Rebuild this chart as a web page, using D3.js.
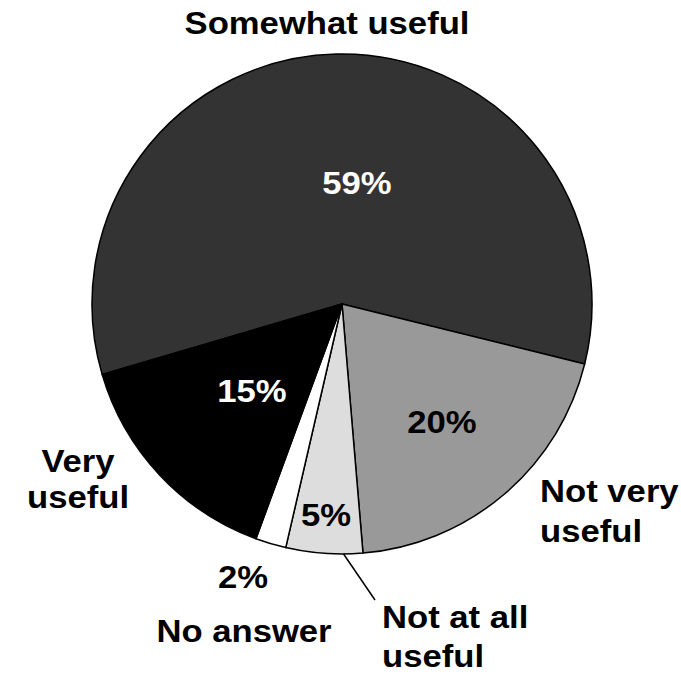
<!DOCTYPE html>
<html>
<head>
<meta charset="utf-8">
<script src="https://cdn.jsdelivr.net/npm/d3@7"></script>
<style>
  html, body { margin: 0; padding: 0; background: #fff; }
  svg { display: block; }
  text { font-family: "Liberation Sans", Arial, sans-serif; font-weight: bold; }
</style>
</head>
<body>
<svg id="chart" width="681" height="676"></svg>
<script>
// Survey answers, in drawing order (clockwise)
const categories = ["Somewhat useful", "Not very useful", "Not at all useful", "No answer", "Very useful"];
const values = [59, 20, 5, 2, 15];
const fills = ["#333333", "#999999", "#dddddd", "#ffffff", "#000000"];
const valueColors = ["#ffffff", "#000000", "#000000", "#000000", "#ffffff"];

const W = 681, H = 676;
const cx = 342, cy = 304, R = 250;
const fontSize = 31.5, stretch = 1.1;

const svg = d3.select("#chart");
const g = svg.append("g").attr("transform", `translate(${cx},${cy})`);

const start = -106.4 * Math.PI / 180;
const pie = d3.pie().sort(null).value(d => d).startAngle(start).endAngle(start + 2 * Math.PI);
const arcs = pie(values);
const arc = d3.arc().innerRadius(0).outerRadius(R);

g.selectAll("path.slice")
  .data(arcs)
  .join("path")
  .attr("class", "slice")
  .attr("d", arc)
  .attr("fill", (d, i) => fills[i])
  .attr("stroke", "#000")
  .attr("stroke-width", 1.5)
  .attr("stroke-linejoin", "round");

// Helper: point on a circle at a d3 pie angle (clockwise from 12 o'clock)
const polar = (a, r) => [cx + r * Math.sin(a), cy - r * Math.cos(a)];

function label(x, y, str, color, anchor) {
  svg.append("text")
    .attr("transform", `translate(${x},${y}) scale(${stretch},1)`)
    .attr("text-anchor", anchor || "middle")
    .attr("font-size", fontSize)
    .attr("fill", color)
    .text(str);
}

// Percentage label anchors (centre x, baseline y), one per slice
const valueAnchors = [[357, 194], [442, 433], [326, 526], [243, 588], [252, 402]];
arcs.forEach((d, i) => {
  const [x, y] = valueAnchors[i];
  label(x, y, values[i] + "%", valueColors[i]);
});

// Category labels around the pie
label(327, 34, "Somewhat useful", "#000");
label(78, 472, "Very", "#000");
label(78, 508, "useful", "#000");
label(540, 502, "Not very", "#000", "start");
label(540, 542, "useful", "#000", "start");
label(382, 628, "Not at all", "#000", "start");
label(382, 667, "useful", "#000", "start");
label(244, 642, "No answer", "#000");

// Leader line for the small "Not at all useful" slice
const na = arcs[2];
const la = na.startAngle + 0.25 * (na.endAngle - na.startAngle);
const p0 = polar(la, R);
svg.append("line")
  .attr("x1", p0[0]).attr("y1", p0[1])
  .attr("x2", 375).attr("y2", 600)
  .attr("stroke", "#000")
  .attr("stroke-width", 1.5);
</script>
</body>
</html>
